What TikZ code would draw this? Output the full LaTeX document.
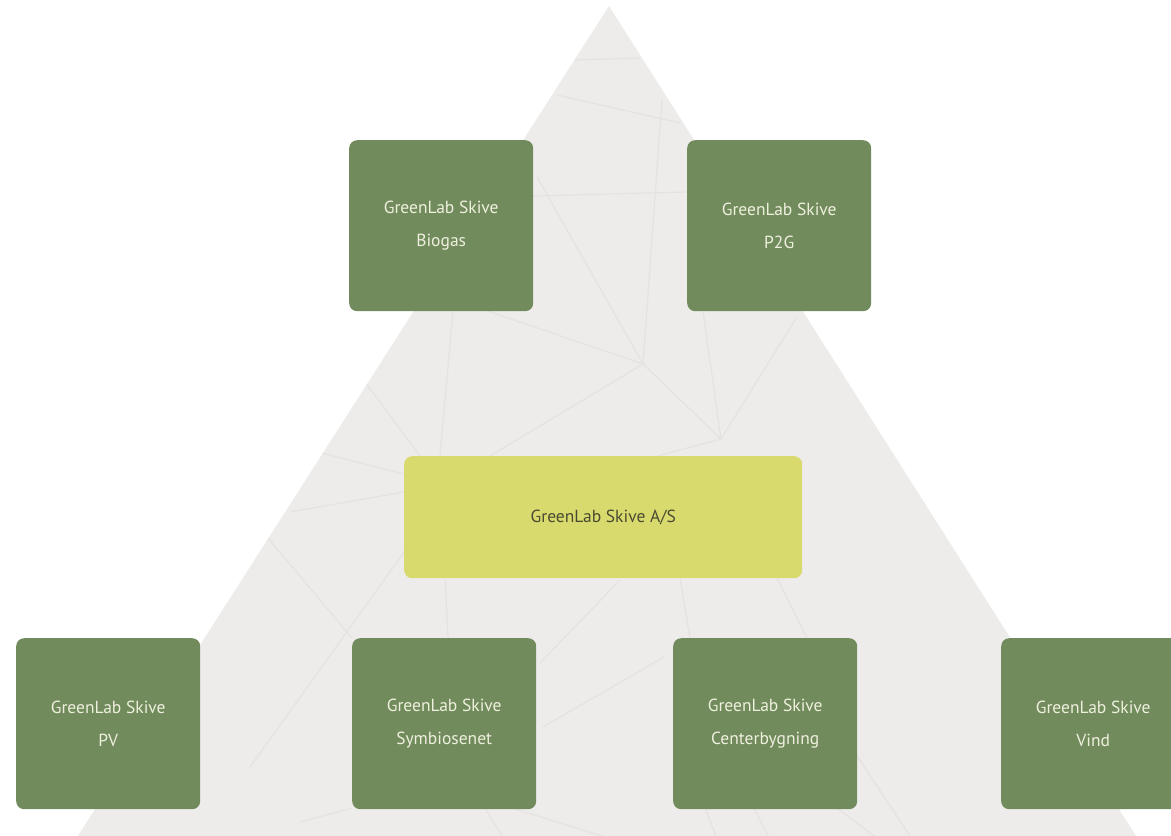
\documentclass[tikz,border=0pt]{standalone}
\usepackage{fontspec}
\setmainfont{PT Sans}
\definecolor{tri}{HTML}{EEECEA}
\definecolor{net}{HTML}{E4E3E2}
\definecolor{boxgreen}{HTML}{728B5C}
\definecolor{boxyellow}{HTML}{D8DA6E}
\definecolor{boxtext}{HTML}{EEF0DE}
\definecolor{astext}{HTML}{4A4A32}
\begin{document}
\begin{tikzpicture}[x=1pt,y=-1pt,
  netline/.style={draw=net, line width=1.2pt},
  gbox/.style={fill=boxgreen, rounded corners=8pt, minimum width=184pt, minimum height=171pt,
    text=boxtext, font=\fontsize{17.5}{33}\selectfont, align=center, inner sep=0pt, anchor=north west},
  ybox/.style={fill=boxyellow, rounded corners=8pt, minimum width=398pt, minimum height=122pt,
    text=astext, font=\fontsize{17.5}{33}\selectfont, align=center, inner sep=0pt, anchor=north west}]
\useasboundingbox (0,0) rectangle (1171,836);
\begin{scope}
\clip (0,0) rectangle (1171,836);
% triangle background
\coordinate (apex) at (609,6);
\coordinate (bl) at (609-0.64*900,906);
\coordinate (br) at (609+0.635*900,906);
\fill[tri] (apex) -- (bl) -- (br) -- cycle;
\begin{scope}
\clip (apex) -- (bl) -- (br) -- cycle;
\coordinate (n1) at (643,364);
\coordinate (n2) at (721,439);
\draw[netline] (575,60) -- (640,58);
\draw[netline] (557,95) -- (680,123);
\draw[netline] (662,100) -- (n1);
\draw[netline] (533,196) -- (686,192);
\draw[netline] (537,177) -- (n1);
\draw[netline] (n1) -- (n2);
\draw[netline] (n1) -- (470,468);
\draw[netline] (n1) -- (470,305);
\draw[netline] (n2) -- (703,311);
\draw[netline] (n2) -- (797,317);
\draw[netline] (n2) -- (657,456);
\draw[netline] (453,311) -- (440,456);
\draw[netline] (360,375) -- (420,456);
\draw[netline] (310,450) -- (404,474);
\draw[netline] (290,512) -- (404,492);
\draw[netline] (262,531) -- (352,638);
\draw[netline] (420,530) -- (250,767);
\draw[netline] (445,578) -- (448,638);
\draw[netline] (620,580) -- (540,663);
\draw[netline] (543,727) -- (664,657);
\draw[netline] (680,578) -- (690,638);
\draw[netline] (777,578) -- (807,638);
\draw[netline] (820,700) -- (910,836);
\draw[netline] (485,808) -- (502,836);
\draw[netline] (512,808) -- (602,836);
\draw[netline] (705,808) -- (716,836);
\draw[netline] (754,808) -- (768,836);
\draw[netline] (837,808) -- (874,836);
\draw[netline] (300,822) -- (352,808);
\end{scope}
% boxes
\node[gbox] (bio) at (349,140) {GreenLab Skive\\Biogas};
\node[gbox] (p2g) at (687,140) {GreenLab Skive\\P2G};
\node[ybox] (as) at (404,456) {GreenLab Skive A/S};
\node[gbox] (pv) at (16,638) {GreenLab Skive\\PV};
\node[gbox] (sym) at (352,638) {GreenLab Skive\\Symbiosenet};
\node[gbox] (cen) at (673,638) {GreenLab Skive\\Centerbygning};
\node[gbox] (vind) at (1001,638) {GreenLab Skive\\Vind};
\end{scope}
\end{tikzpicture}
\end{document}
